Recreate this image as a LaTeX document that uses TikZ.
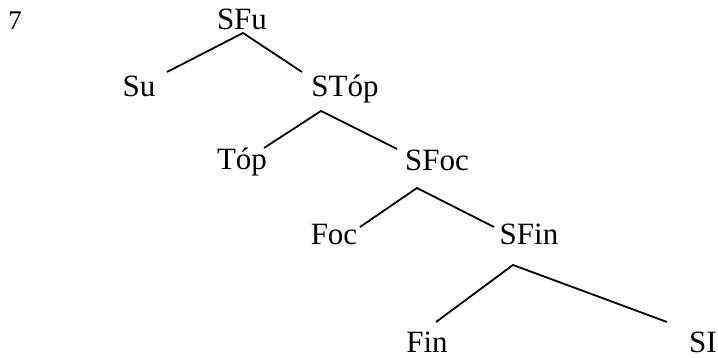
\documentclass[tikz,border=0pt]{standalone}
\usepackage{fontspec}
\setmainfont{Liberation Serif}
\usetikzlibrary{calc}

\tikzset{
  label/.style={inner sep=0pt,anchor=base,font=\fontsize{15.5}{18}\selectfont},
  branch/.style={line width=0.9pt}
}

\begin{document}
\begin{tikzpicture}[x=0.5pt,y=0.5pt]
\useasboundingbox (0,0) rectangle (718,358);
\node[label,font=\fontsize{13.5}{16}\selectfont] (num) at (15,328) {7};
\node[label] (SFu) at (242,328) {SFu};
\node[label] (Su) at (139,261) {Su};
\node[label] (STop) at (345,261) {STóp};
\node[label] (Top) at (242,188) {Tóp};
\node[label] (SFoc) at (437,187) {SFoc};
\node[label] (Foc) at (334,113) {Foc};
\node[label] (SFin) at (529,113) {SFin};
\node[label] (Fin) at (427,5) {Fin};
\node[label] (SI) at (703,5) {SI};
% branches
\draw[branch] ($(Su.base)+(28,25)$) -- ($(SFu.base)+(1,-3)$) -- ($(STop.base)+(-43,25)$);
\draw[branch] ($(Top.base)+(22,22)$) -- ($(STop.base)+(-24,-14)$) -- ($(SFoc.base)+(-40,22)$);
\draw[branch] ($(Foc.base)+(26,18)$) -- ($(SFoc.base)+(-20,-17)$) -- ($(SFin.base)+(-35,18)$);
\draw[branch] ($(Fin.base)+(9,31)$) -- ($(SFin.base)+(-16,-20)$) -- ($(SI.base)+(-36,31)$);
\end{tikzpicture}
\end{document}
